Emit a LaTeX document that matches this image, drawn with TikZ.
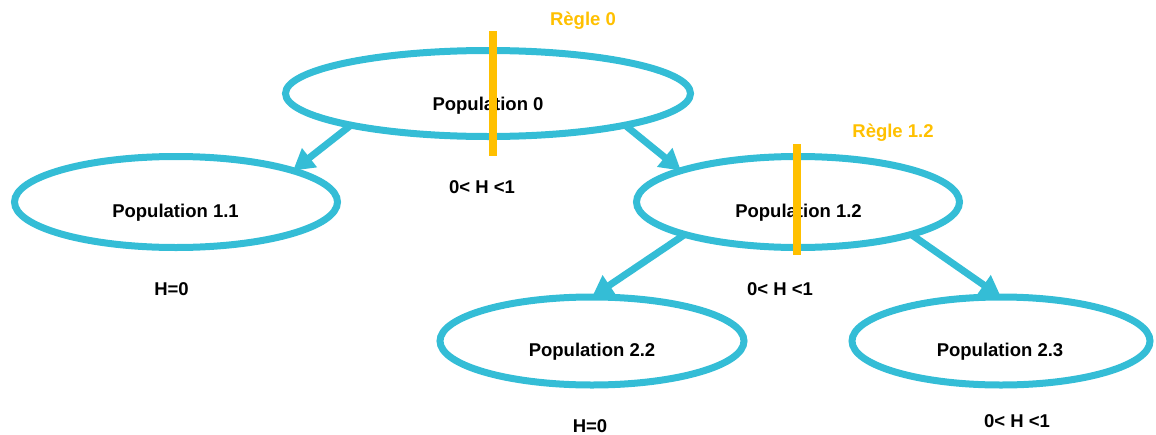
\documentclass[tikz,border=0pt]{standalone}
\usepackage{fontspec}
\setmainfont{Liberation Sans}
\usetikzlibrary{shapes.geometric,arrows.meta}
\definecolor{popcyan}{RGB}{52,189,214}
\definecolor{ruleorange}{RGB}{255,192,0}
\begin{document}
\begin{tikzpicture}[x=1pt,y=-1pt,
  pop/.style={ellipse, draw=popcyan, line width=7pt, inner sep=0pt, outer sep=0pt},
  txt/.style={font=\fontsize{18.5}{22}\selectfont\bfseries, anchor=base, inner sep=0pt},
  ruletxt/.style={txt, text=ruleorange},
  link/.style={draw=popcyan, line width=7pt, -{Triangle[length=21pt,width=23pt]}},
  rulebar/.style={draw=ruleorange, line width=8pt}]
\useasboundingbox (0,0) rectangle (1156,434);
% population ellipses
\node[pop, minimum width=405pt, minimum height=86pt] (p0) at (488,93.5) {};
\node[pop, minimum width=323pt, minimum height=91pt] (p11) at (176,202) {};
\node[pop, minimum width=323pt, minimum height=91pt] (p12) at (798,202) {};
\node[pop, minimum width=304pt, minimum height=88pt] (p22) at (592,341) {};
\node[pop, minimum width=298pt, minimum height=88pt] (p23) at (1001,341) {};
% connectors
\draw[link] (p0.193) -- (p11.15);
\draw[link] (p0.347) -- (p12.165);
\draw[link] (p12.196) -- (p22.90);
\draw[link] (p12.344) -- (p23.90);
% texts in ellipses
\node[txt] (t0) at (488,110) {Population 0};
\node[txt] (t11) at (175.5,217) {Population 1.1};
\node[txt] (t12) at (798.5,217) {Population 1.2};
\node[txt] (t22) at (592,356) {Population 2.2};
\node[txt] (t23) at (1000,356) {Population 2.3};
% entropy labels
\node[txt] (h0) at (482,193) {0< H <1};
\node[txt] (h11) at (171.5,295) {H=0};
\node[txt] (h12) at (780,295) {0< H <1};
\node[txt] (h22) at (590,432) {H=0};
\node[txt] (h23) at (1017,427) {0< H <1};
% rule bars and labels
\draw[rulebar] (492.5,31) -- (492.5,156);
\draw[rulebar] (796.7,144) -- (796.7,255);
\node[ruletxt] (r0) at (583,25) {Règle 0};
\node[ruletxt] (r12) at (893,137) {Règle 1.2};
\end{tikzpicture}
\end{document}
